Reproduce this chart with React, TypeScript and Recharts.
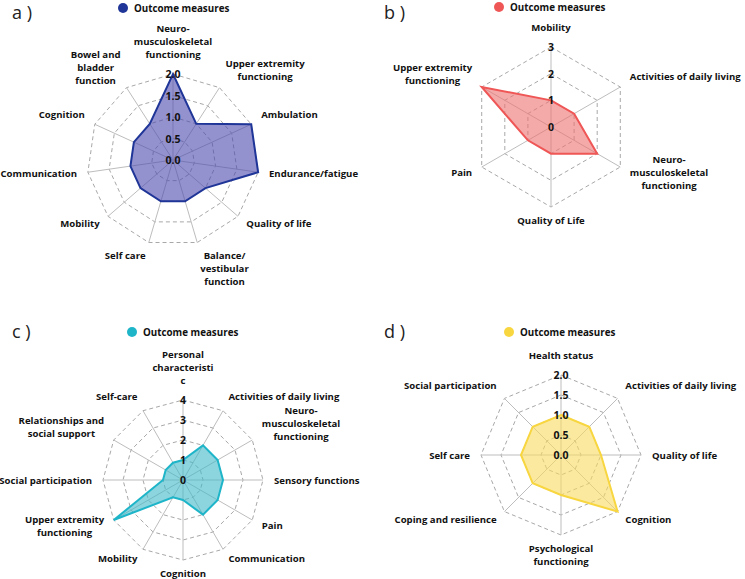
import React from "react";
import { RadarChart, Radar, PolarGrid, PolarAngleAxis, PolarRadiusAxis } from "recharts";

// a) categories / values
const aCategories = [
  "Neuro-\nmusculoskeletal\nfunctioning",
  "Upper extremity\nfunctioning",
  "Ambulation",
  "Endurance/fatigue",
  "Quality of life",
  "Balance/\nvestibular\nfunction",
  "Self care",
  "Mobility",
  "Communication",
  "Cognition",
  "Bowel and\nbladder\nfunction",
];
const aValues = [2, 1, 2, 2, 1, 1, 1, 1, 1, 1, 1];
const aTicks = [0, 0.5, 1, 1.5, 2];

// b)
const bCategories = [
  "Mobility",
  "Activities of daily living",
  "Neuro-\nmusculoskeletal\nfunctioning",
  "Quality of Life",
  "Pain",
  "Upper extremity\nfunctioning",
];
const bValues = [1, 1, 2, 1, 1, 3];
const bTicks = [0, 1, 2, 3];

// c)
const cCategories = [
  "Personal\ncharacteristi\nc",
  "Activities of daily living",
  "Neuro-\nmusculoskeletal\nfunctioning",
  "Sensory functions",
  "Pain",
  "Communication",
  "Cognition",
  "Mobility",
  "Upper extremity\nfunctioning",
  "Social participation",
  "Relationships and\nsocial support",
  "Self-care",
];
const cValues = [1, 2, 2, 2, 2, 2, 1, 1, 4, 1, 1, 1];
const cTicks = [0, 1, 2, 3, 4];

// d)
const dCategories = [
  "Health status",
  "Activities of daily living",
  "Quality of life",
  "Cognition",
  "Psychological\nfunctioning",
  "Coping and resilience",
  "Self care",
  "Social participation",
];
const dValues = [1, 1, 1, 2, 1, 1, 1, 1];
const dTicks = [0, 0.5, 1, 1.5, 2];

const FONT = "'Open Sans', sans-serif";
const LABEL_SIZE = 9.6;
const LINE_H = 13;

let measureCtx: any = null;
function textWidth(s: string) {
  if (!measureCtx) measureCtx = document.createElement("canvas").getContext("2d");
  measureCtx.font = `700 ${LABEL_SIZE}px ${FONT}`;
  return measureCtx.measureText(s).width;
}

// category labels: placed just outside the outer ring, multi-line blocks centred
const makeAngleTick = (cx: number, cy: number, r: number) => (props: any) => {
  const { x, y, payload } = props;
  const vx = x - cx;
  const vy = y - cy;
  const len = Math.hypot(vx, vy) || 1;
  const ux = vx / len;
  const uy = vy / len;
  const px = cx + ux * (r + 11);
  const py = cy + uy * (r + 11);
  const lines = String(payload.value).split("\n");
  const n = lines.length;
  const up = -uy;
  let mid = py;
  if (up > 0.9) mid = py - 9 - ((n - 1) * LINE_H) / 2;
  else if (up > 0.3) mid = py - 5 - (n - 1) * 3;
  else if (up < -0.9) mid = py + 2 + ((n - 1) * LINE_H) / 2;
  const bw = Math.max(...lines.map(textWidth));
  let bx = px;
  if (ux > 0.2) bx = px + bw / 2;
  else if (ux < -0.2) bx = px - bw / 2;
  return (
    <text textAnchor="middle" fontFamily={FONT} fontSize={LABEL_SIZE} fontWeight={700} fill="#111">
      {lines.map((l, i) => (
        <tspan key={i} x={bx} y={mid + (i - (n - 1) / 2) * LINE_H} dominantBaseline="central">
          {l}
        </tspan>
      ))}
    </text>
  );
};

const makeRadiusTick = (decimals: number) => (props: any) => {
  const { x, y, payload } = props;
  return (
    <text x={x} y={y} textAnchor="middle" dominantBaseline="central" fontFamily={FONT} fontSize={10.5} fontWeight={700} fill="#111">
      {Number(payload.value).toFixed(decimals)}
    </text>
  );
};

interface PanelProps {
  letter: string;
  left: number;
  top: number;
  width: number;
  height: number;
  cx: number;
  cy: number;
  r: number;
  categories: string[];
  values: number[];
  ticks: number[];
  decimals: number;
  stroke: string;
  fill: string;
  letterY: number;
  legendX: number;
  legendY: number;
}

function Panel(p: PanelProps) {
  const data = p.categories.map((name, i) => ({ name, value: p.values[i] }));
  const max = p.ticks[p.ticks.length - 1];
  return (
    <div style={{ position: "absolute", left: p.left, top: p.top, width: p.width, height: p.height }}>
      <RadarChart
        width={p.width}
        height={p.height}
        data={data}
        cx={p.cx}
        cy={p.cy}
        outerRadius={p.r}
        margin={{ top: 0, right: 0, bottom: 0, left: 0 }}
      >
        <PolarGrid gridType="polygon" radialLines={false} stroke="#a8a8a8" strokeDasharray="4 3" />
        <PolarGrid gridType="polygon" polarRadius={[]} stroke="#bdbdbd" />
        <PolarAngleAxis dataKey="name" axisLine={false} tickLine={false} tick={makeAngleTick(p.cx, p.cy, p.r)} />
        <Radar
          name="Outcome measures"
          dataKey="value"
          stroke={p.stroke}
          strokeWidth={2}
          fill={p.fill}
          fillOpacity={0.6}
          dot={false}
          isAnimationActive={false}
        />
        <PolarRadiusAxis
          angle={90}
          type="number"
          domain={[0, max]}
          ticks={p.ticks}
          axisLine={false}
          tickLine={false}
          tick={makeRadiusTick(p.decimals)}
        />
      </RadarChart>
      <div
        style={{
          position: "absolute",
          left: 12,
          top: p.letterY,
          fontFamily: FONT,
          fontSize: 18,
          fontWeight: 400,
          color: "#222",
          lineHeight: "24px",
          whiteSpace: "pre",
        }}
      >
        {p.letter}
      </div>
      <div
        style={{
          position: "absolute",
          left: p.legendX - 5,
          top: p.legendY - 7,
          height: 14,
          display: "flex",
          alignItems: "center",
          fontFamily: FONT,
          fontSize: 9.8,
          fontWeight: 700,
          color: "#111",
          whiteSpace: "nowrap",
        }}
      >
        <span style={{ width: 10, height: 10, borderRadius: 5, background: p.stroke, marginRight: 6 }} />
        Outcome measures
      </div>
    </div>
  );
}

export default function App() {
  return (
    <div style={{ position: "absolute", left: 0, top: 0, width: 745, height: 579, background: "#fff" }}>
      <Panel letter="a )" left={0} top={0} width={372} height={290} cx={173} cy={160} r={86}
        categories={aCategories} values={aValues} ticks={aTicks} decimals={1}
        stroke="#1f3597" fill="#4d48af" letterY={0} legendX={123} legendY={8} />
      <Panel letter="b )" left={372} top={0} width={373} height={290} cx={179} cy={127} r={80}
        categories={bCategories} values={bValues} ticks={bTicks} decimals={0}
        stroke="#ef5656" fill="#ee7171" letterY={0} legendX={127} legendY={7} />
      <Panel letter="c )" left={0} top={290} width={372} height={289} cx={183} cy={190} r={80}
        categories={cCategories} values={cValues} ticks={cTicks} decimals={0}
        stroke="#1fb5c9" fill="#3fb7c8" letterY={29} legendX={132} legendY={42} />
      <Panel letter="d )" left={372} top={290} width={373} height={289} cx={189} cy={165} r={80}
        categories={dCategories} values={dValues} ticks={dTicks} decimals={1}
        stroke="#f8d640" fill="#f8da61" letterY={29} legendX={137} legendY={42} />
    </div>
  );
}
